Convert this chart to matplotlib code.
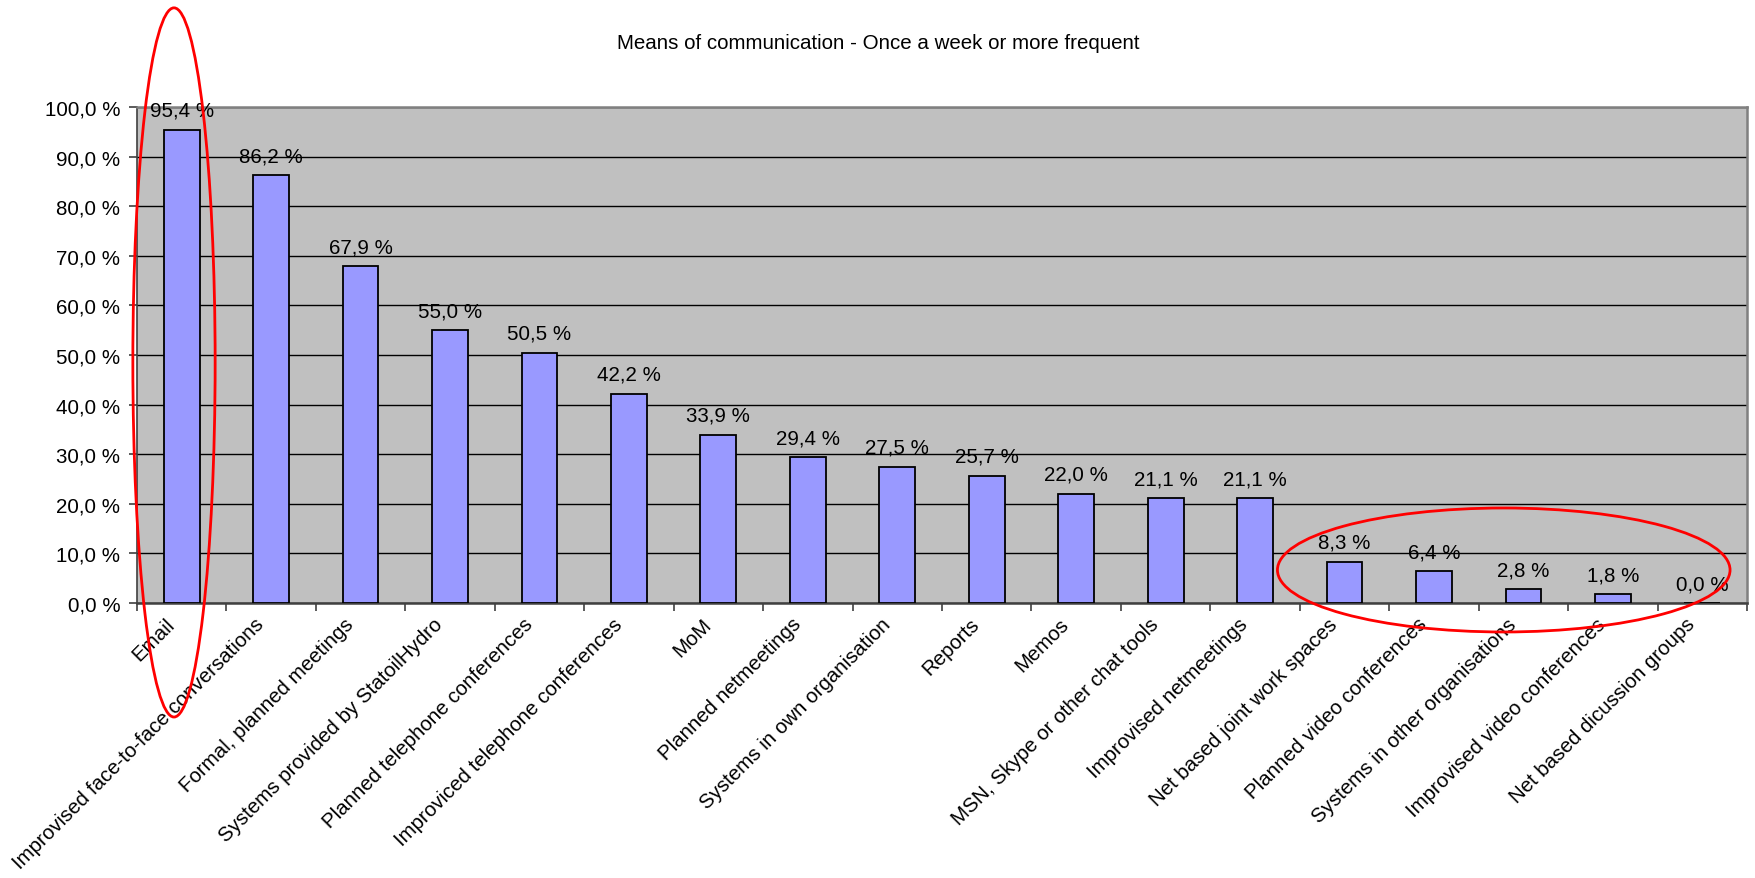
import matplotlib.pyplot as plt
from matplotlib.patches import Ellipse
from matplotlib.ticker import FixedLocator, NullFormatter

plt.rcParams["font.family"] = ["Liberation Sans", "DejaVu Sans"]

categories = [
    "Email",
    "Improvised face-to-face conversations",
    "Formal, planned meetings",
    "Systems provided by StatoilHydro",
    "Planned telephone conferences",
    "Improviced telephone conferences",
    "MoM",
    "Planned netmeetings",
    "Systems in own organisation",
    "Reports",
    "Memos",
    "MSN, Skype or other chat tools",
    "Improvised netmeetings",
    "Net based joint work spaces",
    "Planned video conferences",
    "Systems in other organisations",
    "Improvised video conferences",
    "Net based dicussion groups",
]
percent = [95.4, 86.2, 67.9, 55.0, 50.5, 42.2, 33.9, 29.4, 27.5,
           25.7, 22.0, 21.1, 21.1, 8.3, 6.4, 2.8, 1.8, 0.0]
y_ticks = [0, 10, 20, 30, 40, 50, 60, 70, 80, 90, 100]

FS = 14.8


def pct(v):
    return f"{v:.1f} %".replace(".", ",")


fig = plt.figure(figsize=(17.56, 8.79), dpi=100)
ax = fig.add_axes([0.078, 0.3129, 0.9169, 0.5642])
ax.set_facecolor("#C0C0C0")

x = list(range(len(categories)))
ax.bar(x, percent, width=0.4, color="#9999FF", edgecolor="black",
       linewidth=1.3, zorder=3)
for xi, v in zip(x, percent):
    ax.annotate(pct(v), (xi, v), xytext=(0, 10), textcoords="offset points",
                ha="center", va="baseline", fontsize=FS, zorder=4)

ax.set_xlim(-0.5, len(categories) - 0.5)
ax.set_ylim(0, 100)
ax.set_yticks(y_ticks)
ax.set_yticklabels([pct(v) for v in y_ticks])
ax.yaxis.grid(True, color="black", linewidth=1.0, zorder=1)
ax.set_axisbelow(True)

# category ticks sit on the boundaries between bars
ax.xaxis.set_major_locator(FixedLocator([i - 0.5 for i in range(len(categories) + 1)]))
ax.xaxis.set_major_formatter(NullFormatter())
ax.tick_params(axis="x", which="major", length=6, width=1.2, color="#404040")
ax.tick_params(axis="y", length=6, width=1.2, color="#404040", pad=6,
               labelsize=FS)

# slanted category names, right end tucked just left of each bar centre
for xi, name in zip(x, categories):
    ax.annotate(name, (xi, 0), xycoords=ax.get_xaxis_transform(),
                xytext=(-12, -8), textcoords="offset points",
                rotation=45, rotation_mode="anchor", ha="right", va="top",
                fontsize=FS, annotation_clip=False)

for side in ("top", "right"):
    ax.spines[side].set_color("#808080")
    ax.spines[side].set_linewidth(1.8)
ax.spines["left"].set_color("#404040")
ax.spines["left"].set_linewidth(1.2)
ax.spines["bottom"].set_color("#404040")
ax.spines["bottom"].set_linewidth(1.8)

fig.suptitle("Means of communication - Once a week or more frequent",
             x=0.5, y=0.951, va="center", fontsize=FS)

# highlight rings around the top item and the rarely used group
ax.add_patch(Ellipse((-0.086, 48.5), 0.92, 143, fill=False, edgecolor="red",
                     linewidth=2.0, clip_on=False, zorder=5))
ax.add_patch(Ellipse((14.78, 6.65), 5.06, 25, fill=False, edgecolor="red",
                     linewidth=2.0, clip_on=False, zorder=5))

fig.savefig("out.png", dpi=100)
